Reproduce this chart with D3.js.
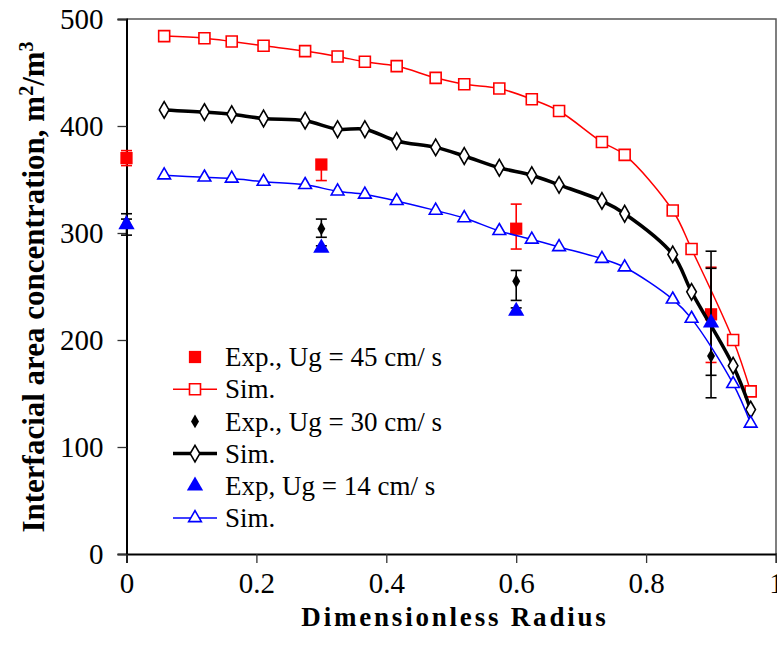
<!DOCTYPE html>
<html>
<head>
<meta charset="utf-8">
<script src="https://cdn.jsdelivr.net/npm/d3@7"></script>
<style>
  body { margin: 0; background: #fff; }
  svg { display: block; font-family: "Liberation Serif", "Times New Roman", serif; }
</style>
</head>
<body>
<div id="chart"></div>
<script>
// simulated radial positions (dimensionless)
const simRadius = [0.058, 0.120, 0.162, 0.211, 0.275, 0.325, 0.367, 0.416, 0.476, 0.520,
                   0.574, 0.624, 0.666, 0.732, 0.767, 0.841, 0.870, 0.934, 0.961];
// simulation results, m2/m3
const sim45 = [484, 482, 479, 475, 470, 465, 460, 456, 445, 439, 435, 425, 414, 385, 373, 321, 285, 200, 152];
const sim30 = [415, 413, 411, 407, 405, 397, 397, 386, 380, 372, 361, 354, 345, 330, 318, 280, 245, 176, 135];
const sim14 = [354, 352, 351, 348, 345, 339, 336, 330, 321, 314, 302, 294, 287, 276, 268, 238, 220, 159, 122];

// experiments
const expRadius = [0, 0.3, 0.6, 0.9];
const exp45 = [370, 364, 304, 224];
const exp45Plus = [7, 4, 23, 44];
const exp45Minus = [7, 15, 19, 45];
const exp30 = [310, 304, 255, 185];
const exp30Plus = [3, 9, 10, 98];
const exp30Minus = [3, 8, 18, 39];
const exp14 = [308, 286, 227, 216];
const exp14Plus = [10, 2, 3, 51];
const exp14Minus = [10, 2, 3, 49];

const xTicks = [0, 0.2, 0.4, 0.6, 0.8, 1];
const yTicks = [0, 100, 200, 300, 400, 500];

const legendLabels = ["Exp., Ug = 45 cm/ s", "Sim.", "Exp., Ug = 30 cm/ s", "Sim.", "Exp, Ug = 14 cm/ s", "Sim."];

const svgWidth = 777;
const svgHeight = 651;
const margin = { top: 19, right: 1, bottom: 97, left: 126.5 };
const width = svgWidth - margin.left - margin.right;
const height = svgHeight - margin.top - margin.bottom;

const svg = d3.select("#chart").append("svg")
    .attr("width", svgWidth)
    .attr("height", svgHeight);

const chartGroup = svg.append("g")
    .attr("transform", `translate(${margin.left}, ${margin.top})`);

const xScale = d3.scaleLinear().domain([0, 1]).range([0, width]);
const yScale = d3.scaleLinear().domain([0, 500]).range([height, 0]);

// frame (top + right)
chartGroup.append("path")
    .attr("d", `M0,0H${width}V${height}`)
    .attr("fill", "none")
    .attr("stroke", "#555")
    .attr("stroke-width", 1.5);

// axes
const leftAxis = d3.axisLeft(yScale).tickValues(yTicks).tickSize(9).tickPadding(14);
const bottomAxis = d3.axisBottom(xScale).tickValues(xTicks).tickSize(9).tickPadding(9)
    .tickFormat(d3.format("~g"));

const yAxisG = chartGroup.append("g").call(leftAxis);
const xAxisG = chartGroup.append("g").attr("transform", `translate(0, ${height})`).call(bottomAxis);

[yAxisG, xAxisG].forEach(g => {
    g.select(".domain").attr("stroke", "#000").attr("stroke-width", 2);
    g.selectAll(".tick line").attr("stroke", "#333").attr("stroke-width", 1.3);
    g.selectAll(".tick text")
        .attr("font-family", "Liberation Serif, serif")
        .attr("font-size", 29)
        .attr("fill", "#000");
});

// axis titles
svg.append("text")
    .attr("x", 455)
    .attr("y", 626)
    .attr("text-anchor", "middle")
    .attr("font-size", 27)
    .attr("font-weight", "bold")
    .attr("letter-spacing", 2.8)
    .text("Dimensionless Radius");

const yTitle = svg.append("text")
    .attr("transform", "translate(44, 287) rotate(-90)")
    .attr("text-anchor", "middle")
    .attr("font-size", 31)
    .attr("font-weight", "bold");
yTitle.append("tspan").text("Interfacial area concentration, m");
yTitle.append("tspan").attr("baseline-shift", "super").attr("font-size", 20).text("2");
yTitle.append("tspan").text("/m");
yTitle.append("tspan").attr("baseline-shift", "super").attr("font-size", 20).text("3");

// marker shapes
const sym = {
    square: d3.symbol(d3.symbolSquare, 121),
    diamond: d3.symbol(d3.symbolDiamond, 80),
    triangle: d3.symbol(d3.symbolTriangle, 70),
    bigSquare: d3.symbol(d3.symbolSquare, 150),
    smallDiamond: d3.symbol(d3.symbolDiamond, 55),
    bigTriangle: d3.symbol(d3.symbolTriangle, 115)
};

const series = [
    { type: "exp", values: exp45, plus: exp45Plus, minus: exp45Minus, color: "#ff0000", errColor: "#ff0000", shape: sym.bigSquare },
    { type: "sim", values: sim45, color: "#ff0000", lw: 1.5, shape: sym.square },
    { type: "exp", values: exp30, plus: exp30Plus, minus: exp30Minus, color: "#000", errColor: "#000", shape: sym.smallDiamond },
    { type: "sim", values: sim30, color: "#000", lw: 3.5, shape: sym.diamond },
    { type: "exp", values: exp14, plus: exp14Plus, minus: exp14Minus, color: "#0000ff", errColor: "#000", shape: sym.bigTriangle },
    { type: "sim", values: sim14, color: "#0000ff", lw: 1.5, shape: sym.triangle }
];

const line = d3.line()
    .x(d => xScale(d[0]))
    .y(d => yScale(d[1]))
    .curve(d3.curveCatmullRom.alpha(0.5));

series.forEach(s => {
    const g = chartGroup.append("g");
    if (s.type === "sim") {
        const pts = simRadius.map((r, i) => [r, s.values[i]]);
        g.append("path")
            .datum(pts)
            .attr("d", line)
            .attr("fill", "none")
            .attr("stroke", s.color)
            .attr("stroke-width", s.lw);
        g.selectAll("path.m")
            .data(pts)
            .join("path")
            .attr("class", "m")
            .attr("transform", d => `translate(${xScale(d[0])}, ${yScale(d[1])})`)
            .attr("d", s.shape)
            .attr("fill", "#fff")
            .attr("stroke", s.color)
            .attr("stroke-width", 1.6);
    } else {
        const pts = expRadius.map((r, i) => ({ r: r, v: s.values[i], hi: s.values[i] + s.plus[i], lo: s.values[i] - s.minus[i] }));
        const eb = g.selectAll("g.err").data(pts).join("g").attr("class", "err")
            .attr("stroke", s.errColor).attr("stroke-width", 1.6);
        eb.append("line")
            .attr("x1", d => xScale(d.r)).attr("x2", d => xScale(d.r))
            .attr("y1", d => yScale(d.hi)).attr("y2", d => yScale(d.lo));
        eb.append("line")
            .attr("x1", d => xScale(d.r) - 5.5).attr("x2", d => xScale(d.r) + 5.5)
            .attr("y1", d => yScale(d.hi)).attr("y2", d => yScale(d.hi));
        eb.append("line")
            .attr("x1", d => xScale(d.r) - 5.5).attr("x2", d => xScale(d.r) + 5.5)
            .attr("y1", d => yScale(d.lo)).attr("y2", d => yScale(d.lo));
        g.selectAll("path.m")
            .data(pts)
            .join("path")
            .attr("class", "m")
            .attr("transform", d => `translate(${xScale(d.r)}, ${yScale(d.v)})`)
            .attr("d", s.shape)
            .attr("fill", s.color);
    }
});

// legend
const legend = svg.append("g").attr("transform", "translate(173, 357)");
series.forEach((s, i) => {
    const row = legend.append("g").attr("transform", `translate(0, ${i * 32.2})`);
    if (s.type === "sim") {
        row.append("line").attr("x1", 0).attr("x2", 44).attr("y1", 0).attr("y2", 0)
            .attr("stroke", s.color).attr("stroke-width", s.lw);
        row.append("path").attr("transform", "translate(22, 0)").attr("d", s.shape)
            .attr("fill", "#fff").attr("stroke", s.color).attr("stroke-width", 1.6);
    } else {
        row.append("path").attr("transform", "translate(22, 0)").attr("d", s.shape)
            .attr("fill", s.color);
    }
    row.append("text")
        .attr("x", 52)
        .attr("y", 0)
        .attr("dy", "0.34em")
        .attr("font-size", 27)
        .text(legendLabels[i]);
});
</script>
</body>
</html>
